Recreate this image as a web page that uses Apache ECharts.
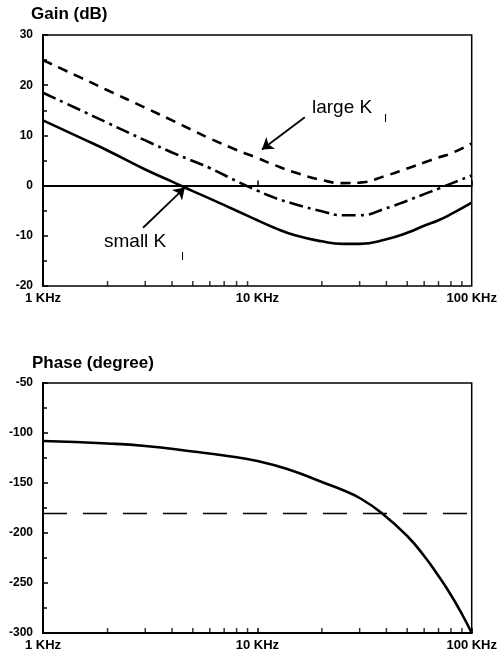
<!DOCTYPE html>
<html>
<head>
<meta charset="utf-8">
<script src="https://cdn.jsdelivr.net/npm/echarts@6/dist/echarts.min.js"></script>
<style>
  html, body { margin: 0; padding: 0; background: #fff; }
  #chart { width: 500px; height: 658px; }
</style>
</head>
<body>
<div id="chart"></div>
<script>
// gain curves (dB)
const gainFreq = [1000, 1500, 2000, 3000, 4000, 5000, 6000, 8000, 10000, 12000, 15000, 20000, 25000, 30000, 40000, 50000, 60000, 70000, 80000, 100000];
const gainSmallKI = [13, 9.5, 7, 3.2, 0.8, -1.1, -2.6, -5.0, -6.9, -8.4, -9.9, -11.1, -11.6, -11.6, -10.7, -9.4, -8.0, -6.9, -5.7, -3.4];
const gainMidKI = [18.5, 15, 12.5, 9, 6.6, 4.9, 3.5, 0.9, -1.0, -2.4, -3.7, -5.1, -5.9, -5.9, -4.5, -3.0, -1.7, -0.6, 0.4, 2.0];
const gainLargeKI = [25, 21.5, 19, 15.5, 13, 11, 9.4, 7.1, 5.5, 4.1, 2.6, 1.1, 0.5, 0.6, 2.0, 3.4, 4.6, 5.6, 6.4, 8.4];

// phase curve (degree)
const phaseFreq = [1000, 2000, 3000, 5000, 7000, 10000, 14000, 20000, 25000, 30000, 38000, 50000, 60000, 70000, 80000, 90000, 100000];
const phaseDeg = [-108, -110.5, -113, -118.5, -122.5, -128, -136.5, -149, -157, -165, -180, -203, -223, -243, -262, -281, -300];

// axis stuff
const freqTickLabels = ['1 KHz', '10 KHz', '100 KHz'];
const minorTickFreqs = [2000, 3000, 4000, 5000, 6000, 7000, 8000, 9000,
  20000, 30000, 40000, 50000, 60000, 70000, 80000, 90000];
const phaseRef = -180;

// annotation arrows [from, to] in data coords
const largeArrow = [[16650, 13.6], [10500, 7.2]];
const smallArrow = [[2930, -8.4], [4590, -0.4]];

const pair = (xs, ys) => xs.map((x, i) => [x, ys[i]]);

const chart = echarts.init(document.getElementById('chart'));
const FONT = '"Liberation Sans", Arial, Helvetica, sans-serif';

function xAxisOf(idx) {
  return {
    type: 'log',
    logBase: 10,
    gridIndex: idx,
    min: 1000,
    max: 100000,
    axisLine: { lineStyle: { color: '#000', width: 2 } },
    axisTick: { inside: true, length: 5, lineStyle: { color: '#000', width: 1.5 } },
    splitLine: { show: false },
    axisLabel: {
      color: '#000', fontFamily: FONT, fontWeight: 'bold', fontSize: 13, margin: 6,
      showMinLabel: true, showMaxLabel: true,
      formatter: v => freqTickLabels[Math.round(Math.log10(v)) - 3] || ''
    }
  };
}

function yAxisOf(idx, min, max, interval) {
  return {
    type: 'value',
    gridIndex: idx,
    min: min,
    max: max,
    interval: interval,
    axisLine: { show: true, lineStyle: { color: '#000', width: 2 } },
    axisTick: { show: true, inside: true, length: 5, lineStyle: { color: '#000', width: 1.5 } },
    minorTick: { show: true, splitNumber: 2, length: 4, lineStyle: { color: '#000', width: 1.5 } },
    splitLine: { show: false },
    axisLabel: { color: '#000', fontFamily: FONT, fontWeight: 'bold', fontSize: 12, margin: 10 }
  };
}

function arrowLine(pts) {
  return {
    silent: true,
    symbol: ['none', 'arrow'],
    symbolSize: 11,
    label: { show: false },
    lineStyle: { color: '#000', width: 1.8, type: 'solid' },
    data: [[{ coord: pts[0] }, { coord: pts[1] }]]
  };
}

const option = {
  animation: false,
  backgroundColor: '#fff',
  title: [
    { text: 'Gain (dB)', left: 31, top: 6, padding: 0,
      textStyle: { fontFamily: FONT, fontSize: 17, fontWeight: 'bold', color: '#000' } },
    { text: 'Phase (degree)', left: 32, top: 355, padding: 0,
      textStyle: { fontFamily: FONT, fontSize: 17, fontWeight: 'bold', color: '#000' } }
  ],
  grid: [
    { left: 43, right: 28, top: 35, height: 251, show: true, borderColor: '#000', borderWidth: 1.5 },
    { left: 43, right: 28, top: 383, height: 250, show: true, borderColor: '#000', borderWidth: 1.5 }
  ],
  xAxis: [xAxisOf(0), xAxisOf(1)],
  yAxis: [yAxisOf(0, -20, 30, 10), yAxisOf(1, -300, -50, 50)],
  graphic: [
    { type: 'text', style: { x: 312, y: 108, text: 'large K', font: '19px ' + FONT, fill: '#000', verticalAlign: 'middle' } },
    { type: 'text', style: { x: 384, y: 119, text: 'I', font: '11px ' + FONT, fill: '#000', verticalAlign: 'middle' } },
    { type: 'text', style: { x: 104, y: 242, text: 'small K', font: '19px ' + FONT, fill: '#000', verticalAlign: 'middle' } },
    { type: 'text', style: { x: 181, y: 257, text: 'I', font: '11px ' + FONT, fill: '#000', verticalAlign: 'middle' } }
  ],
  series: [
    {
      name: 'small KI', type: 'line', xAxisIndex: 0, yAxisIndex: 0,
      data: pair(gainFreq, gainSmallKI), showSymbol: false, smooth: 0.5,
      lineStyle: { color: '#000', width: 2.6, type: 'solid' },
      markLine: arrowLine(smallArrow)
    },
    {
      name: 'mid KI', type: 'line', xAxisIndex: 0, yAxisIndex: 0,
      data: pair(gainFreq, gainMidKI), showSymbol: false, smooth: 0.5,
      lineStyle: { color: '#000', width: 2.6, type: [14, 5, 3, 5] },
      markLine: {
        silent: true, symbol: ['none', 'none'], label: { show: false },
        lineStyle: { color: '#000', width: 1.5, type: 'solid' },
        data: [{ yAxis: 0 }]
      }
    },
    {
      name: 'large KI', type: 'line', xAxisIndex: 0, yAxisIndex: 0,
      data: pair(gainFreq, gainLargeKI), showSymbol: false, smooth: 0.5,
      lineStyle: { color: '#000', width: 2.6, type: [10, 7] },
      markLine: arrowLine(largeArrow)
    },
    {
      name: 'phase', type: 'line', xAxisIndex: 1, yAxisIndex: 1,
      data: pair(phaseFreq, phaseDeg), showSymbol: false, smooth: 0.5,
      lineStyle: { color: '#000', width: 2.6 },
      markLine: {
        silent: true, symbol: ['none', 'none'], label: { show: false },
        lineStyle: { color: '#000', width: 1.3, type: [24, 16] },
        data: [{ yAxis: phaseRef }]
      }
    },
    // minor log ticks on the frequency axes
    {
      type: 'scatter', xAxisIndex: 0, yAxisIndex: 0, silent: true,
      symbol: 'rect', symbolSize: [1.5, 5], symbolOffset: [0, -2.5],
      itemStyle: { color: '#000' },
      data: minorTickFreqs.map(f => [f, -20])
    },
    {
      type: 'scatter', xAxisIndex: 1, yAxisIndex: 1, silent: true,
      symbol: 'rect', symbolSize: [1.5, 5], symbolOffset: [0, -2.5],
      itemStyle: { color: '#000' },
      data: minorTickFreqs.map(f => [f, -300])
    }
  ]
};

chart.setOption(option);
</script>
</body>
</html>
